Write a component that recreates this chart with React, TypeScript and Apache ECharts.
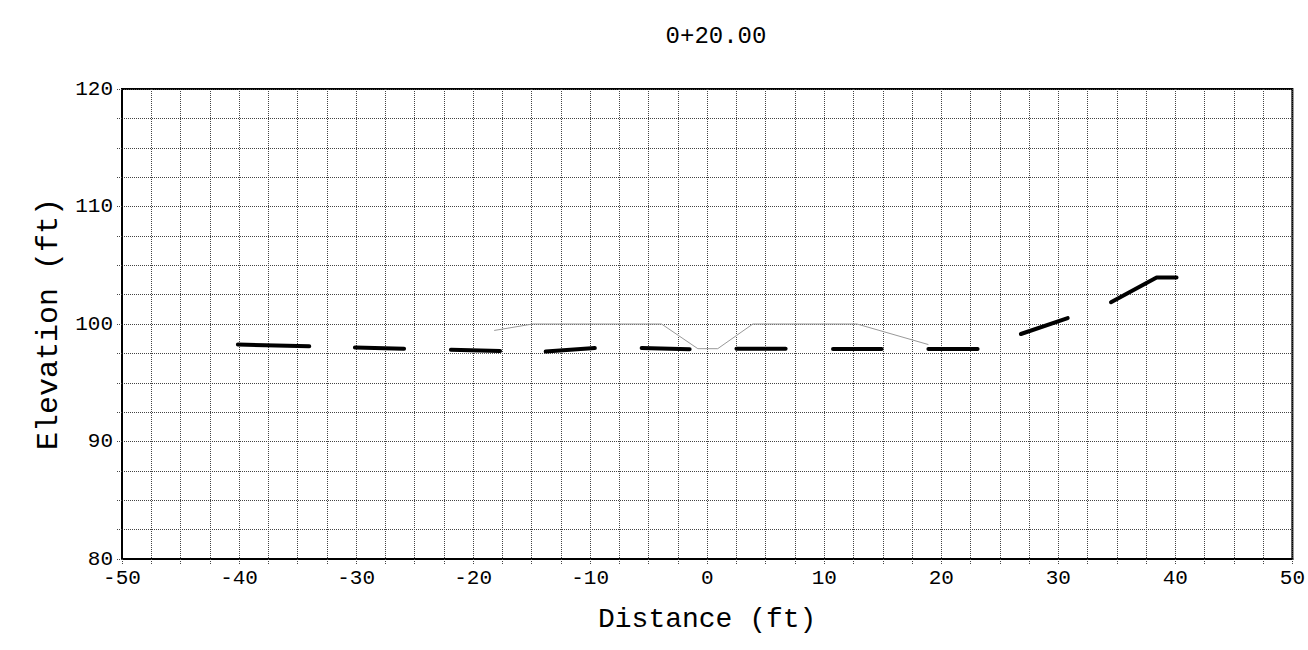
import React, { useEffect, useRef } from "react";
import * as echarts from "echarts";

const titleText = "0+20.00";
const xAxisName = "Distance (ft)";
const yAxisName = "Elevation (ft)";
const xMin = -50;
const xMax = 50;
const yMin = 80;
const yMax = 120;

// thin gray existing-ground profile
const groundX = [-18.2, -14.9, -3.9, -0.8, 0.9, 3.9, 12.8, 18.9];
const groundY = [99.45, 100, 100, 97.9, 97.9, 100, 100, 98.25];

// thick black design segments
const segmentXs = [
  [-40.1, -34.0],
  [-30.1, -25.9],
  [-21.9, -17.7],
  [-13.8, -9.6],
  [-5.6, -1.5],
  [2.5, 6.7],
  [10.75, 14.9],
  [18.9, 23.1],
  [26.8, 30.8],
  [34.5, 38.4, 40.1],
];
const segmentYs = [
  [98.25, 98.1],
  [98.0, 97.9],
  [97.8, 97.7],
  [97.65, 97.95],
  [97.95, 97.85],
  [97.9, 97.9],
  [97.88, 97.88],
  [97.88, 97.88],
  [99.15, 100.5],
  [101.85, 103.95, 103.95],
];

const FONT = "Liberation Mono";

export default function App() {
  const ref = useRef<HTMLDivElement>(null);
  useEffect(() => {
    if (!ref.current) return;
    const chart = echarts.init(ref.current, undefined, { renderer: "svg" });
    const gridLine = { color: "#444", width: 1, type: "dotted" as const };
    const series: any[] = [
      {
        type: "line",
        data: groundX.map((x, i) => [x, groundY[i]]),
        showSymbol: false,
        lineStyle: { color: "#999", width: 1 },
        z: 2,
      },
      ...segmentXs.map((xs, s) => ({
        type: "line",
        data: xs.map((x, i) => [x, segmentYs[s][i]]),
        showSymbol: false,
        lineStyle: { color: "#000", width: 4, cap: "round", join: "round" },
        z: 3,
      })),
    ];
    chart.setOption({
      animation: false,
      backgroundColor: "#fff",
      title: {
        text: titleText,
        left: 711,
        top: 19,
        textAlign: "center",
        textStyle: { fontFamily: FONT, fontSize: 24, fontWeight: "normal", color: "#000" },
      },
      grid: {
        left: 122,
        right: 8,
        top: 89,
        bottom: 91,
        show: true,
        borderColor: "#000",
        borderWidth: 2,
        backgroundColor: "transparent",
      },
      xAxis: {
        type: "value",
        min: xMin,
        max: xMax,
        interval: 10,
        name: xAxisName,
        nameLocation: "middle",
        nameGap: 46,
        nameTextStyle: { fontFamily: FONT, fontSize: 28, color: "#000" },
        axisLine: { show: true, onZero: false, lineStyle: { color: "#000", width: 2 } },
        axisTick: { show: true, length: 5, lineStyle: gridLine },
        minorTick: { show: true, splitNumber: 4, length: 5, lineStyle: gridLine },
        splitLine: { show: true, lineStyle: gridLine },
        minorSplitLine: { show: true, lineStyle: gridLine },
        axisLabel: { fontFamily: FONT, fontSize: 21, color: "#000", margin: 9 },
      },
      yAxis: {
        type: "value",
        min: yMin,
        max: yMax,
        interval: 10,
        name: yAxisName,
        nameLocation: "middle",
        nameGap: 52,
        nameTextStyle: { fontFamily: FONT, fontSize: 30, color: "#000" },
        axisLine: { show: true, onZero: false, lineStyle: { color: "#000", width: 2 } },
        axisTick: { show: true, length: 5, lineStyle: gridLine },
        minorTick: { show: true, splitNumber: 4, length: 5, lineStyle: gridLine },
        splitLine: { show: true, lineStyle: gridLine },
        minorSplitLine: { show: true, lineStyle: gridLine },
        axisLabel: { fontFamily: FONT, fontSize: 21, color: "#000", margin: 9 },
      },
      series,
    });
    return () => chart.dispose();
  }, []);
  return (
    <div
      ref={ref}
      style={{ position: "fixed", left: 0, top: 0, width: 1308, height: 650, background: "#fff" }}
    />
  );
}
